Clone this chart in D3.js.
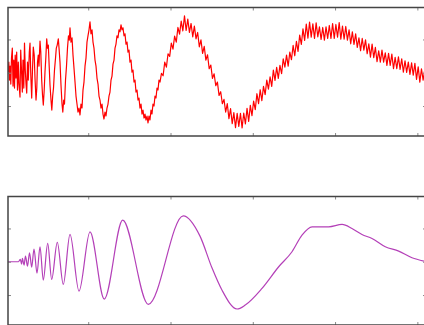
<!DOCTYPE html>
<html>
<head>
<meta charset="utf-8">
<script src="https://cdn.jsdelivr.net/npm/d3@7"></script>
<style>
  html, body { margin: 0; padding: 0; background: #fff; overflow: hidden; }
</style>
</head>
<body>
<svg id="chart" width="424" height="325"></svg>
<script>
// --- data (sample index, amplitude) ---
const xTicks = [200, 400, 600, 800, 1000];
const yTicks = [-1, 0, 1];
const xDomain = [5, 1021];
const yDomain = [-1.9, 1.96];

// noisy signal
const noisySignal = [
  [5,0.02],[7,0.32],[8.6,-0.22],[10.3,0.2],[11.8,-0.34],[13.5,0.44],[15.5,0.74],[17.2,-0.40],
  [19.1,0.38],[20.8,-0.46],[22.5,0.53],[24.4,-0.16],[26.1,0.62],[28.1,-0.52],[30,0.32],[31.7,-0.34],
  [34.2,-0.73],[35.9,0.68],[37.8,0.08],[39.8,-0.58],[41.5,0.38],[43.4,-0.46],[45.1,0.89],[47,0.08],
  [48.8,-0.34],[50.5,-0.61],[52.4,0.32],[54.3,-0.22],
  [56.8,0.62],[58.5,0.89],[60.4,-0.07],[62.6,-0.76],[64.5,0.08],[66.5,0.77],[68.7,0.53],[70.6,-0.16],
  [73.1,-0.82],[75,-0.46],[76.7,0.32],[78.6,0.53],[80.3,0.2],[82.8,0.95],[84.7,0.62],[86.9,-0.22],
  [88.9,-0.67],[90.8,-0.97],[93,-0.52],[94.9,0.02],[96.9,0.44],[99.1,1.02],[101,0.74],[103,0.83],
  [105.1,0.2],[107.1,-0.37],[109.5,-0.82],[111.5,-1.12],[113.6,-0.70],[115.6,-0.46],[118,0.08],[120.5,0.44],
  [122.4,0.74],[124.6,0.83],[127.3,1.02],[129.4,0.68],[131.4,0.32],[133.8,-0.37],[136.3,-0.94],[138.2,-1.18],
  [140.4,-0.82],[142.3,-0.94],[144.8,-0.22],[147.2,0.2],[149.6,0.74],[152,1.11],[154,0.98],[155.7,1.35],
  [158.1,0.92],[160.6,1.05],[163,0.53],[165.4,0.14],[167.9,-0.28],[170.3,-0.70],[172.7,-0.94],[175.1,-1.18],
  [177.6,-1.06],[180,-1.27],
  [182.4,-0.94],[184.9,-1.06],[187.3,-0.52],[189.7,-0.28],[192.2,0.20],[194.6,0.44],[197,0.92],[199.4,1.11],
  [201.9,1.29],[204.3,1.53],[206.7,1.17],[209.2,1.29],[211.6,0.92],[214,0.74],[216.5,0.38],[218.9,0.20],
  [221.3,-0.16],[223.8,-0.34],[226.2,-0.70],[228.6,-0.82],[231,-1.06],[233.5,-0.94],[235.9,-1.24],[238.3,-1.39],
  [240.8,-1.18],[243.2,-1.30],[245.6,-1.06],[248.1,-0.94],[250.5,-0.70],[252.9,-0.58],[255.4,-0.22],[257.8,-0.10],
  [260.2,0.26],[262.7,0.38],[265.1,0.74],[267.5,0.86],[269.9,1.11],[272.4,1.05],[274.8,1.29],[277.2,1.23],
  [279.7,1.44],[282.1,1.29],[284.5,1.35],[287,1.11],[289.4,1.17],[291.8,0.86],[294.3,0.92],[296.7,0.62],
  [299.1,0.68],[301.5,0.32],[304,0.38],[306.4,0.02],[308.8,0.08],[311.3,-0.28],[313.7,-0.22],[316.1,-0.58],
  [318.6,-0.52],[321,-0.82],[323.4,-0.76],[325.8,-1.06],[328.3,-0.94],[330.7,-1.24],[333.1,-1.12],[335.6,-1.36],
  [338,-1.24],[340.4,-1.42],[342.9,-1.30],[345.3,-1.51],[347.7,-1.30],[350.1,-1.42],[352.6,-1.12],[355,-1.24],
  [357.4,-0.94],[359.9,-1.00],[362.3,-0.70],[364.7,-0.76],[367.2,-0.46],[369.6,-0.52],[372,-0.22],[374.5,-0.28],
  [378,-0.02],[382,-0.09],[386,0.32],[390,0.17],[394,0.57],[398,0.49],[402,0.89],[406,0.71],
  [410,1.10],[414,0.92],[418,1.36],[422,1.16],[426,1.55],[430,1.26],[434,1.71],[438,1.27],
  [442,1.61],[446,1.21],[450,1.48],[454,1.08],[458,1.40],[462,1.02],[466,1.21],[470,0.78],
  [474,0.99],[478,0.58],[482,0.79],[486,0.38],[490,0.54],[494,0.12],[498,0.23],[502,-0.17],
  [506,-0.03],[510,-0.39],[514,-0.28],[518,-0.68],[522,-0.57],[526,-0.93],[530,-0.80],[534,-1.18],
  [538,-0.93],[542,-1.38],[546,-1.08],[550,-1.53],[554,-1.20],[558,-1.65],[562,-1.22],[566,-1.61],
  [570,-1.22],[574,-1.66],[578,-1.21],[582,-1.54],[586,-1.07],[590,-1.46],[594,-0.98],[598,-1.29],
  [602,-0.85],[606,-1.11],[610,-0.63],[614,-0.93],[618,-0.51],[622,-0.84],[626,-0.41],[630,-0.66],
  [634,-0.22],[638,-0.49],[642,-0.12],[646,-0.41],[650,0.08],[654,-0.23],[658,0.16],[662,-0.17],
  [666,0.22],[670,-0.03],[674,0.42],[678,0.17],[682,0.53],[686,0.20],[690,0.62],[694,0.39],
  [698,0.82],[702,0.51],[706,0.94],[710,0.64],[714,1.13],[718,0.85],[722,1.32],[726,0.97],
  [730,1.46],[734,1.04],[738,1.52],[742,1.07],[746,1.47],[750,1.03],[754,1.50],[758,1.08],
  [762,1.38],[766,1.00],[770,1.36],[774,0.98],[778,1.38],[782,1.03],[786,1.42],[790,1.03],
  [794,1.48],[798,1.03],[802,1.45],[806,1.07],[810,1.51],[814,1.01],[818,1.40],[822,1.01],
  [826,1.39],[830,0.98],[834,1.29],[838,0.87],[842,1.23],[846,0.85],[850,1.17],[854,0.76],
  [858,1.05],[862,0.66],[866,1.03],[870,0.68],[874,0.99],[878,0.57],[882,0.87],[886,0.47],
  [890,0.86],[894,0.45],[898,0.76],[902,0.33],[906,0.66],[910,0.32],[914,0.68],[918,0.32],
  [922,0.60],[926,0.22],[930,0.58],[934,0.22],[938,0.56],[942,0.12],[946,0.46],[950,0.12],
  [954,0.48],[958,0.10],[962,0.42],[966,0.02],[970,0.36],[974,0.01],[978,0.32],[982,-0.05],
  [986,0.30],[990,-0.07],[994,0.28],[998,-0.20],[1002,0.18],[1006,-0.28],[1010,0.12],[1014,-0.22],
  [1018,0.10],[1021,-0.15]
];

// denoised signal (turning points)
const denoisedSignal = [
  [5,0],[30.5,0],[35,0.07],[38,-0.07],[40,0.1],[44,-0.1],[47.5,0.17],[52.4,-0.13],
  [57.3,0.27],[62.6,-0.16],[68.2,0.38],[75.5,-0.34],[82.8,0.45],[90.8,-0.55],[101.5,0.55],[111.2,-0.53],
  [124.8,0.58],[139.4,-0.68],[155.7,0.82],[177.6,-0.88],[204.3,0.9],[239,-1.12],[283.8,1.25],[346,-1.28],
  [431,1.38],[471.7,0.77],[501,-0.19],[525,-0.85],[561.8,-1.42],[581.8,-1.3],[622.4,-0.8],[663,-0.15],
  [695.3,0.3],[719.6,0.8],[744,1.05],[784.5,1.05],[817,1.12],[841,1.0],[865.4,0.82],[889.7,0.7],
  [922,0.45],[954.6,0.32],[987,0.12],[1016,0.02]
];

// --- layout ---
const LEFT = 8, RIGHT = 426, PANEL_H = 128.5;
const panels = [
  { data: noisySignal, top: 7.5, color: '#ff0000', width: 1.2, curve: d3.curveLinear },
  { data: denoisedSignal, top: 196.5, color: '#b440b8', width: 1.2, curve: d3.curveMonotoneX }
];

const svg = d3.select('#chart');

panels.forEach((p, i) => {
  const x = d3.scaleLinear().domain(xDomain).range([LEFT, RIGHT]);
  const y = d3.scaleLinear().domain(yDomain).range([p.top + PANEL_H, p.top]);
  const g = svg.append('g');

  g.append('clipPath').attr('id', 'clip' + i)
    .append('rect').attr('x', LEFT).attr('y', p.top).attr('width', RIGHT - LEFT).attr('height', PANEL_H);

  g.append('path')
    .datum(p.data)
    .attr('clip-path', `url(#clip${i})`)
    .attr('fill', 'none')
    .attr('stroke', p.color)
    .attr('stroke-width', p.width)
    .attr('stroke-linejoin', 'round')
    .attr('d', d3.line().x(d => x(d[0])).y(d => y(d[1])).curve(p.curve));

  // inward ticks on all four sides, no labels
  const axes = [
    [d3.axisTop(x).tickValues(xTicks), `translate(0,${p.top})`],
    [d3.axisBottom(x).tickValues(xTicks), `translate(0,${p.top + PANEL_H})`],
    [d3.axisLeft(y).tickValues(yTicks), `translate(${LEFT},0)`],
    [d3.axisRight(y).tickValues(yTicks), `translate(${RIGHT},0)`]
  ];
  axes.forEach(([axis, tr]) => {
    const a = g.append('g').attr('transform', tr)
      .call(axis.tickSizeInner(-3).tickSizeOuter(0).tickFormat(''));
    a.select('.domain').remove();
    a.selectAll('line').attr('stroke', '#888').attr('stroke-width', 1);
  });

  g.append('rect')
    .attr('x', LEFT).attr('y', p.top)
    .attr('width', RIGHT - LEFT).attr('height', PANEL_H)
    .attr('fill', 'none').attr('stroke', '#444').attr('stroke-width', 1.5);
});
</script>
</body>
</html>
